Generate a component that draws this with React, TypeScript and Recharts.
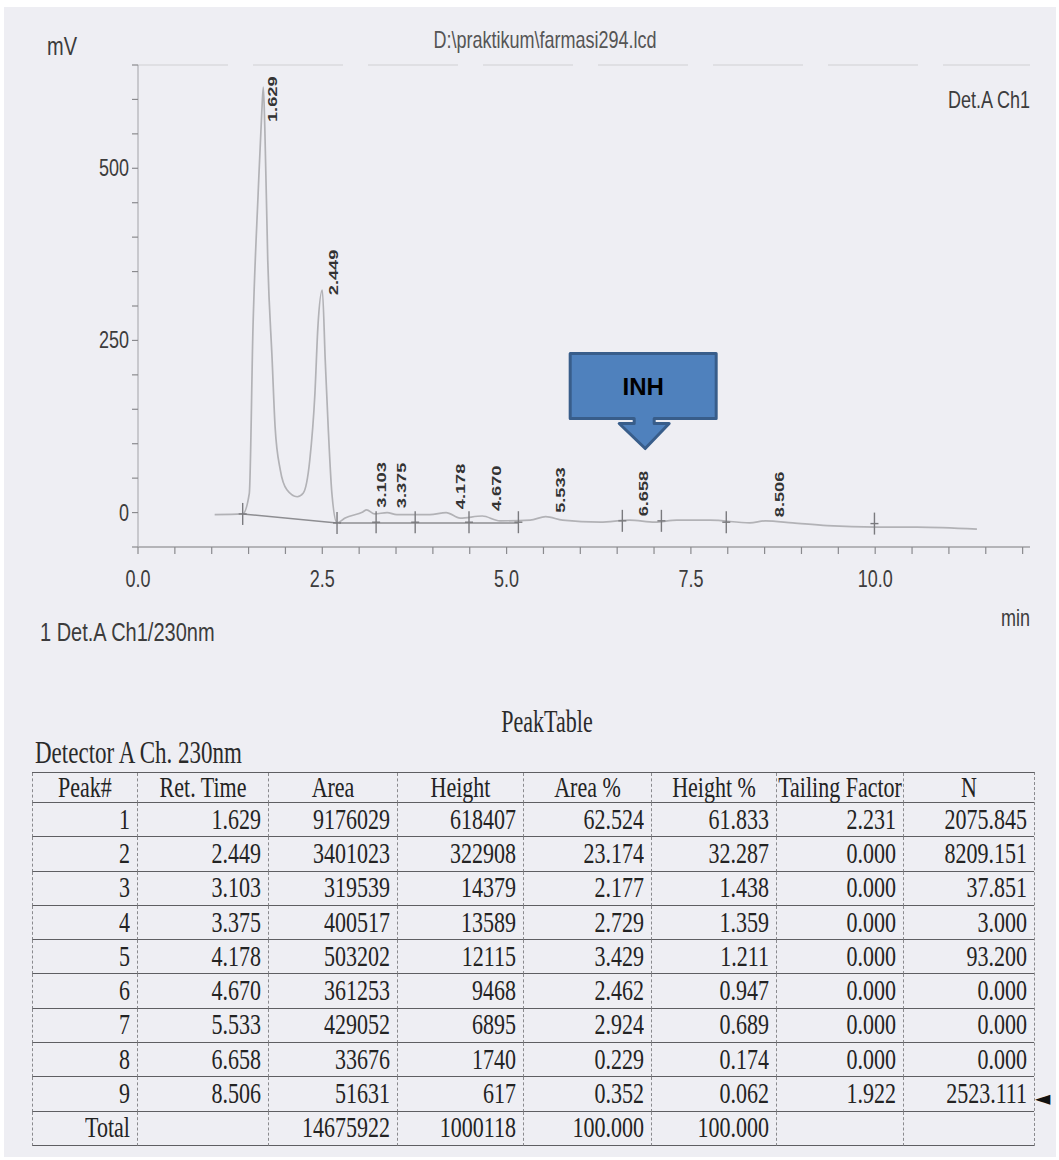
import React from 'react';
import { ComposedChart, Line, Scatter, XAxis, YAxis, ReferenceLine, ReferenceDot } from 'recharts';

// ---- chromatogram trace, minutes / mV ----
const traceTimes = [1.04, 1.42, 1.51, 1.56, 1.63, 1.68, 1.70, 1.72, 1.76, 1.82, 1.86, 1.93, 2.02, 2.16, 2.24, 2.33, 2.40, 2.44, 2.50, 2.54, 2.58, 2.63, 2.70, 2.81, 3.05, 3.10, 3.21, 3.38, 3.51, 3.96, 4.18, 4.37, 4.67, 4.91, 5.32, 5.53, 5.76, 6.27, 6.67, 7.01, 7.31, 7.76, 8.30, 8.51, 8.88, 9.35, 10.02, 10.57, 11.38];
const traceValues = [-3, -2, 28, 269, 464, 584, 618, 560, 367, 221, 124, 62, 33, 23, 28, 76, 173, 269, 323, 221, 124, 28, -15, -8, 1, 4, -2, 0, -3, -3, 0, -8, -5, -12, -11, -6, -11, -14, -11, -14, -11, -11, -15, -12, -15, -19, -21, -21, -24];

// ---- drawn baselines ----
const baseTimes = [1.42, 2.70, 2.71, 2.72, 5.16];
const baseValues: (number | null)[] = [-2, -15, null, -15, -15];

// ---- peak start / end markers ----
const markerTimes = [1.42, 2.70, 3.23, 3.76, 4.49, 5.16, 6.57, 7.10, 7.98, 9.99];
const markerValues = [-2, -15, -14, -14, -14, -14, -12, -12, -14, -16];

// ---- peak table ----
const peakNumbers = [1, 2, 3, 4, 5, 6, 7, 8, 9];
const retTimes = [1.629, 2.449, 3.103, 3.375, 4.178, 4.670, 5.533, 6.658, 8.506];
const areas = [9176029, 3401023, 319539, 400517, 503202, 361253, 429052, 33676, 51631];
const heights = [618407, 322908, 14379, 13589, 12115, 9468, 6895, 1740, 617];
const areaPcts = [62.524, 23.174, 2.177, 2.729, 3.429, 2.462, 2.924, 0.229, 0.352];
const heightPcts = [61.833, 32.287, 1.438, 1.359, 1.211, 0.947, 0.689, 0.174, 0.062];
const tailingFactors = [2.231, 0.000, 0.000, 0.000, 0.000, 0.000, 0.000, 0.000, 1.922];
const plateCounts = [2075.845, 8209.151, 37.851, 3.000, 93.200, 0.000, 0.000, 0.000, 2523.111];
const totalArea = 14675922;
const totalHeight = 1000118;
const totalPct = 100.0;

// ---- axes ----
const xTicks = [0, 0.5, 1, 1.5, 2, 2.5, 3, 3.5, 4, 4.5, 5, 5.5, 6, 6.5, 7, 7.5, 8, 8.5, 9, 9.5, 10, 10.5, 11, 11.5, 12];
const xLabelTicks = [0, 2.5, 5, 7.5, 10];
const yTicks = [-50, 0, 50, 100, 150, 200, 250, 300, 350, 400, 450, 500, 550, 600, 650];
const yLabelTicks = [0, 250, 500];
const xDomain = [0, 12.1];
const yDomain = [-50, 650];

// ---- INH callout anchor ----
const inhTime = [6.88];
const inhTipMv = [93];

const SANS = "'Liberation Sans', Arial, sans-serif";
const SERIF = "'Liberation Serif', 'Times New Roman', serif";
const PLOT_TOP = 65;

const traceData = traceTimes.map((t, i) => ({ t, v: traceValues[i] }));
const baseData = baseTimes.map((t, i) => ({ t, v: baseValues[i] }));
const markerData = markerTimes.map((t, i) => ({ t, v: markerValues[i] }));
const peakData = retTimes.map((t, i) => ({ t, v: heights[i] / 1000, label: t.toFixed(3) }));

function Txt(props: any) {
  const { x, y, anchor = 'start', size, sy = 1.3, color = '#3c3c3c', family = SANS, weight = 400, children } = props;
  const tx = anchor === 'middle' ? '-50%' : anchor === 'end' ? '-100%' : '0';
  return (
    <div
      style={{
        position: 'absolute',
        left: x,
        top: y,
        transform: `translate(${tx},-50%) scaleY(${sy})`,
        fontSize: size,
        fontFamily: family,
        color,
        fontWeight: weight,
        lineHeight: 1,
        whiteSpace: 'nowrap',
      }}
    >
      {children}
    </div>
  );
}

const XTick = (props: any) => {
  const { x, y, payload } = props;
  if (!xLabelTicks.includes(payload.value)) return <g />;
  return (
    <text transform={`translate(${x},${y + 31}) scale(1,1.3)`} textAnchor="middle" fontSize={18} fontFamily={SANS} fill="#3c3c3c">
      {payload.value.toFixed(1)}
    </text>
  );
};

const YTick = (props: any) => {
  const { x, y, payload } = props;
  if (!yLabelTicks.includes(payload.value)) return <g />;
  return (
    <text transform={`translate(${x - 1},${y + 8}) scale(1,1.3)`} textAnchor="end" fontSize={18} fontFamily={SANS} fill="#3c3c3c">
      {payload.value}
    </text>
  );
};

const PeakLabel = (props: any) => {
  const { cx, cy, payload } = props;
  if (cx == null || cy == null) return <g />;
  const ax = cx + 19;
  const ay = Math.max(cy + 5, PLOT_TOP + 57);
  return (
    <text transform={`translate(${ax},${ay}) rotate(-90) scale(1.4,1)`} fontSize={13} fontWeight={700} fontFamily={SANS} fill="#333">
      {payload.label}
    </text>
  );
};

const Marker = (props: any) => {
  const { cx, cy } = props;
  if (cx == null || cy == null) return <g />;
  return (
    <g>
      <line x1={cx} x2={cx} y1={cy - 11} y2={cy + 11} stroke="#7a7a7e" strokeWidth={1.4} />
      <line x1={cx - 4} x2={cx + 4} y1={cy} y2={cy} stroke="#7a7a7e" strokeWidth={1.4} />
    </g>
  );
};

const Callout = (props: any) => {
  const { cx, cy } = props;
  if (cx == null || cy == null) return <g />;
  const top = -95, bottom = -30, headTop = -25, left = -75, right = 71;
  const sL = -11, sR = 9, hL = -26, hR = 24;
  const pts = [
    [left, top], [right, top], [right, bottom], [sR, bottom], [sR, headTop], [hR, headTop], [0, 0],
    [hL, headTop], [sL, headTop], [sL, bottom], [left, bottom],
  ].map(([a, b]) => `${cx + a},${cy + b}`).join(' ');
  return (
    <g>
      <polygon points={pts} fill="#4f81bd" stroke="#385d8a" strokeWidth={3} strokeLinejoin="round" />
      <text x={cx - 2} y={cy - 54} textAnchor="middle" fontSize={24} fontWeight={700} fontFamily={SANS} fill="#000">
        INH
      </text>
    </g>
  );
};

const colWidths = [105, 131, 129, 126, 128, 125, 127, 131];
const headers = ['Peak#', 'Ret. Time', 'Area', 'Height', 'Area %', 'Height %', 'Tailing Factor', 'N'];

const cellSpan = (s: string) => (
  <span style={{ display: 'inline-block', transform: 'scaleY(1.35)', lineHeight: '22px' }}>{s}</span>
);

export default function App() {
  const rows = peakNumbers.map((n, i) => [
    String(n),
    retTimes[i].toFixed(3),
    String(areas[i]),
    String(heights[i]),
    areaPcts[i].toFixed(3),
    heightPcts[i].toFixed(3),
    tailingFactors[i].toFixed(3),
    plateCounts[i].toFixed(3),
  ]);
  const totalRow = ['Total', '', String(totalArea), String(totalHeight), totalPct.toFixed(3), totalPct.toFixed(3), '', ''];

  const tdBase: React.CSSProperties = {
    height: 34.3,
    padding: '0 7px 0 0',
    textAlign: 'right',
    borderBottom: '1.5px solid #5e5e62',
    borderLeft: '1px dashed #8a8a8e',
    fontSize: 22,
    lineHeight: '22px',
    color: '#232323',
    overflow: 'visible',
    whiteSpace: 'nowrap',
    boxSizing: 'border-box',
  };

  return (
    <div style={{ position: 'absolute', left: 0, top: 0, width: 1059, height: 1160, background: '#ffffff', overflow: 'hidden' }}>
      <div style={{ position: 'absolute', left: 4, top: 7, width: 1052, height: 1150, background: '#eeeef3' }} />

      <div style={{ position: 'absolute', left: 0, top: 0 }}>
        <ComposedChart width={1059} height={660} margin={{ top: PLOT_TOP, right: 29, bottom: 0, left: 0 }}>
          <XAxis
            dataKey="t"
            type="number"
            domain={xDomain}
            ticks={xTicks}
            allowDataOverflow
            interval={0}
            height={113}
            tickSize={7}
            tickMargin={2}
            axisLine={{ stroke: '#a0a0a5', strokeWidth: 1.3 }}
            tickLine={{ stroke: '#8a8a8e', strokeWidth: 1.2 }}
            tick={<XTick />}
          />
          <YAxis
            type="number"
            domain={yDomain}
            ticks={yTicks}
            allowDataOverflow
            interval={0}
            width={138}
            tickSize={6}
            tickMargin={2}
            axisLine={{ stroke: '#b4b4b8', strokeWidth: 1.3 }}
            tickLine={{ stroke: '#8a8a8e', strokeWidth: 1.2 }}
            tick={<YTick />}
          />
          <ReferenceLine y={650} stroke="#cfcfd4" strokeWidth={1.2} strokeDasharray="90 25" />
          <Line
            data={baseData}
            dataKey="v"
            type="linear"
            stroke="#8e8e92"
            strokeWidth={1.5}
            dot={false}
            connectNulls={false}
            isAnimationActive={false}
          />
          <Line
            data={traceData}
            dataKey="v"
            type="monotone"
            stroke="#b2b2b6"
            strokeWidth={1.7}
            dot={false}
            isAnimationActive={false}
          />
          <Scatter data={markerData} dataKey="v" shape={<Marker />} isAnimationActive={false} />
          <Scatter data={peakData} dataKey="v" shape={<PeakLabel />} isAnimationActive={false} />
          <ReferenceDot x={inhTime[0]} y={inhTipMv[0]} shape={<Callout />} ifOverflow="visible" />
        </ComposedChart>
      </div>

      <Txt x={62} y={46} anchor="middle" size={20}>mV</Txt>
      <Txt x={545} y={40} anchor="middle" size={18} color="#555">D:\praktikum\farmasi294.lcd</Txt>
      <Txt x={1030} y={100} anchor="end" size={18}>Det.A Ch1</Txt>
      <Txt x={1030} y={618} anchor="end" size={18}>min</Txt>
      <Txt x={40} y={632} size={20}>1  Det.A Ch1/230nm</Txt>

      <Txt x={547} y={722} anchor="middle" size={22} family={SERIF} sy={1.4} color="#2a2a2a">PeakTable</Txt>
      <Txt x={35} y={752} size={23} family={SERIF} sy={1.4} color="#2a2a2a">Detector A Ch. 230nm</Txt>

      <table
        style={{
          position: 'absolute',
          left: 32,
          top: 772,
          width: 1002,
          borderCollapse: 'separate',
          borderSpacing: 0,
          tableLayout: 'fixed',
          fontFamily: SERIF,
          borderTop: '1.5px solid #5e5e62',
          borderRight: '1px dashed #8a8a8e',
        }}
      >
        <colgroup>
          {colWidths.map((w, i) => (
            <col key={i} style={{ width: w }} />
          ))}
        </colgroup>
        <tbody>
          <tr>
            {headers.map((h, i) => (
              <td key={i} style={{ ...tdBase, height: 30, textAlign: 'center', padding: 0 }}>
                {cellSpan(h)}
              </td>
            ))}
          </tr>
          {rows.map((r, ri) => (
            <tr key={ri}>
              {r.map((c, ci) => (
                <td key={ci} style={tdBase}>
                  {cellSpan(c)}
                </td>
              ))}
            </tr>
          ))}
          <tr>
            {totalRow.map((c, ci) => (
              <td key={ci} style={tdBase}>
                {cellSpan(c)}
              </td>
            ))}
          </tr>
        </tbody>
      </table>

      <div style={{ position: 'absolute', left: 1035, top: 1088, fontSize: 20, lineHeight: 1, fontFamily: "'DejaVu Sans', sans-serif", color: '#111' }}>◄</div>
    </div>
  );
}
